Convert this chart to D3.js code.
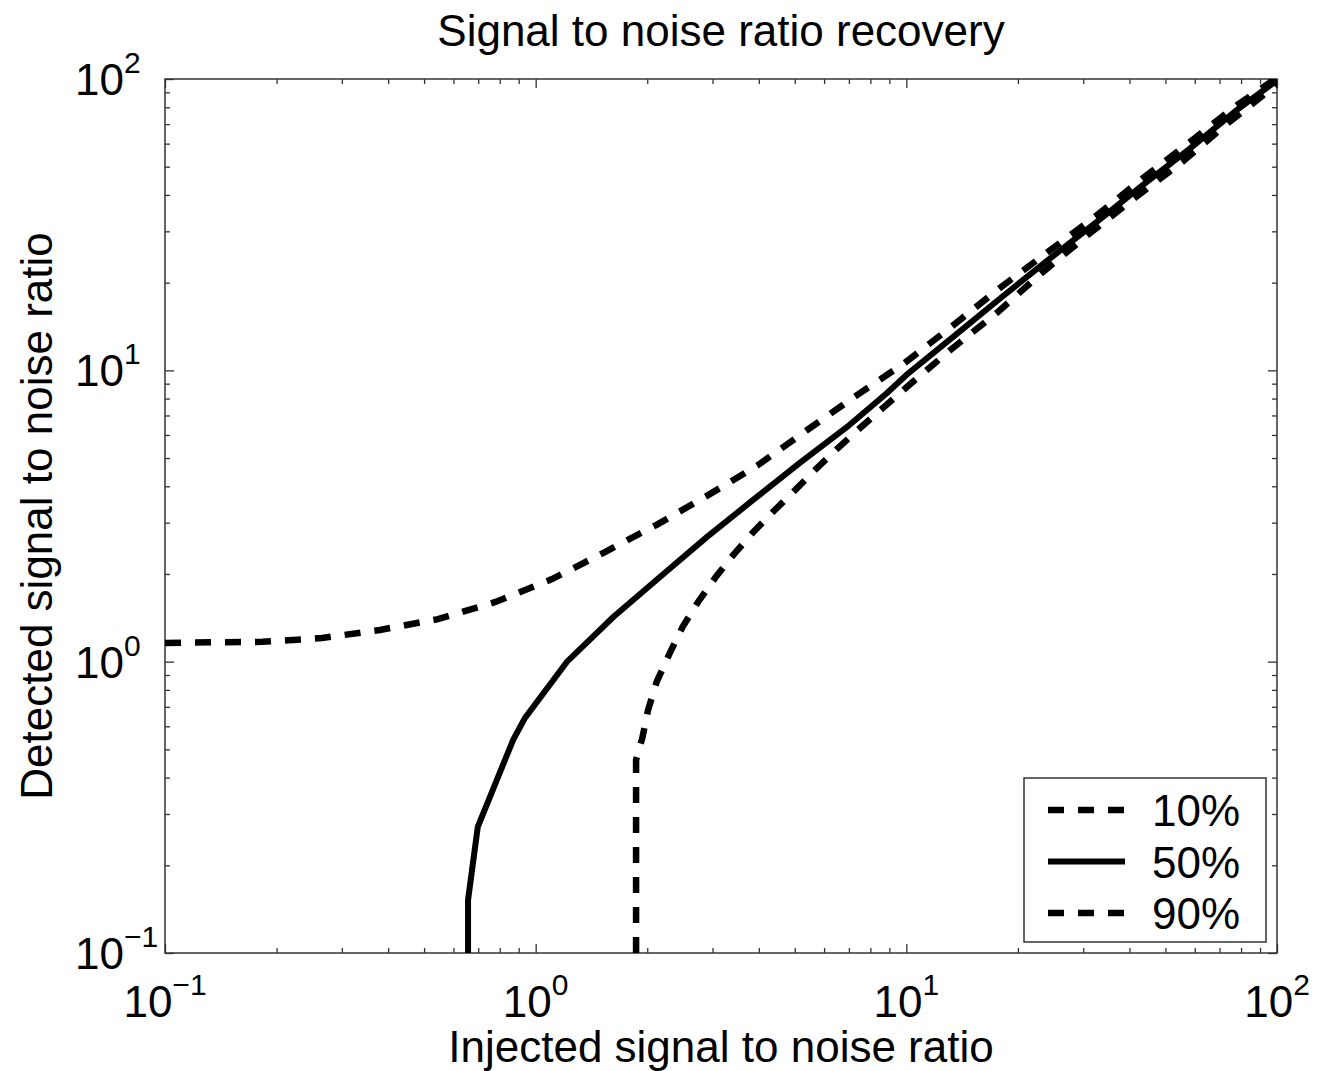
<!DOCTYPE html>
<html>
<head>
<meta charset="utf-8">
<script src="https://cdn.jsdelivr.net/npm/d3@7"></script>
<style>
  body { margin: 0; background: #fff; }
  text { font-family: "Liberation Sans", Arial, sans-serif; fill: #000; }
</style>
</head>
<body>
<div id="chart"></div>
<script>
// values (injected SNR -> detected SNR)
var injected10 = [0.1, 0.183, 0.265, 0.38, 0.545, 0.776, 1.107, 1.52, 2.12, 2.92, 3.98, 5.4, 7.36, 9.9, 13.4, 17.9, 24.1, 32.7, 43.5, 58.2, 78.0, 100];
var detected10 = [1.16, 1.17, 1.205, 1.285, 1.40, 1.60, 1.92, 2.36, 2.95, 3.73, 4.73, 6.24, 8.22, 10.6, 14.3, 19.2, 25.5, 34.1, 45.7, 60.8, 81.4, 101];

var injected50 = [0.657, 0.657, 0.698, 0.869, 0.936, 1.215, 1.617, 2.16, 2.90, 3.86, 5.16, 6.92, 8.87, 10.0, 13.4, 17.9, 24.1, 32.7, 43.5, 58.2, 78.0, 100];
var detected50 = [0.1, 0.152, 0.271, 0.538, 0.641, 1.0, 1.42, 1.95, 2.68, 3.59, 4.81, 6.39, 8.36, 9.64, 13.06, 17.65, 23.9, 32.4, 43.3, 57.7, 78.3, 99];

var injected90 = [1.866, 1.866, 1.94, 2.01, 2.12, 2.30, 2.49, 2.74, 3.05, 3.41, 3.85, 4.37, 5.01, 5.74, 6.54, 7.50, 8.65, 10.05, 13.1, 17.6, 23.2, 30.9, 41.4, 55.5, 73.8, 100];
var detected90 = [0.1, 0.46, 0.547, 0.682, 0.852, 1.07, 1.315, 1.60, 1.94, 2.32, 2.77, 3.27, 3.88, 4.62, 5.41, 6.34, 7.43, 8.78, 11.7, 15.8, 21.6, 29.2, 39.1, 51.9, 70.6, 96];

var seriesNames = ["10%", "50%", "90%"];
var majorTicks = [0.1, 1, 10, 100];
var tickExponents = ["\u22121", "0", "1", "2"];

var width = 1317, height = 1071;
var margin = {left: 165, top: 79, right: 40, bottom: 118};
var plotW = width - margin.left - margin.right;
var plotH = height - margin.top - margin.bottom;

var svg = d3.select('#chart').append('svg')
    .attr('width', width)
    .attr('height', height);

var x = d3.scaleLog().domain([0.1, 100]).range([0, plotW]);
var y = d3.scaleLog().domain([0.1, 100]).range([plotH, 0]);

var g = svg.append('g').attr('transform', 'translate(' + margin.left + ',' + margin.top + ')');

g.append('clipPath').attr('id', 'clip')
  .append('rect').attr('width', plotW).attr('height', plotH);

// minor + major ticks, pointing inward on all four sides
var minor = x.ticks().filter(function(d) { return majorTicks.indexOf(d) < 0; });
var axisColor = '#333';

function addAxis(axisFn, scale, vals, size, tx, ty) {
  var a = g.append('g')
    .attr('transform', 'translate(' + tx + ',' + ty + ')')
    .call(axisFn(scale).tickValues(vals).tickSize(-size).tickFormat(''));
  a.select('.domain').remove();
  a.selectAll('line').attr('stroke', axisColor).attr('stroke-width', 1.3);
}
[[minor, 5], [majorTicks, 9]].forEach(function(t) {
  addAxis(d3.axisBottom, x, t[0], t[1], 0, plotH);
  addAxis(d3.axisTop, x, t[0], t[1], 0, 0);
  addAxis(d3.axisLeft, y, t[0], t[1], 0, 0);
  addAxis(d3.axisRight, y, t[0], t[1], plotW, 0);
});

g.append('rect')
  .attr('width', plotW).attr('height', plotH)
  .attr('fill', 'none').attr('stroke', axisColor).attr('stroke-width', 1.5);

// tick labels 10^k
majorTicks.forEach(function(v, i) {
  var t = g.append('text')
    .attr('x', x(v)).attr('y', plotH + 64)
    .attr('text-anchor', 'middle')
    .style('font-size', '44px');
  t.append('tspan').text('10');
  t.append('tspan').attr('dy', -22).style('font-size', '30px').text(tickExponents[i]);

  var t2 = g.append('text')
    .attr('x', -90).attr('y', y(v) + 16)
    .attr('text-anchor', 'start')
    .style('font-size', '44px');
  t2.append('tspan').text('10');
  t2.append('tspan').attr('dy', -22).style('font-size', '30px').text(tickExponents[i]);
});

// titles
svg.append('text')
  .attr('x', margin.left + plotW / 2).attr('y', 46)
  .attr('text-anchor', 'middle').style('font-size', '44px')
  .text('Signal to noise ratio recovery');

svg.append('text')
  .attr('x', margin.left + plotW / 2).attr('y', 1062)
  .attr('text-anchor', 'middle').style('font-size', '44px')
  .text('Injected signal to noise ratio');

svg.append('text')
  .attr('transform', 'translate(52,' + (margin.top + plotH / 2) + ') rotate(-90)')
  .attr('text-anchor', 'middle').style('font-size', '44px')
  .text('Detected signal to noise ratio');

// curves
var series = [
  {xs: injected10, ys: detected10, dash: '16,14', w: 6.5},
  {xs: injected50, ys: detected50, dash: null, w: 6},
  {xs: injected90, ys: detected90, dash: '16,14', w: 6.5}
];

var line = d3.line()
  .x(function(d) { return x(d[0]); })
  .y(function(d) { return y(d[1]); });

var curves = g.append('g').attr('clip-path', 'url(#clip)');
series.forEach(function(s) {
  var pts = s.xs.map(function(v, i) { return [v, s.ys[i]]; });
  curves.append('path')
    .attr('d', line(pts))
    .attr('fill', 'none')
    .attr('stroke', '#000')
    .attr('stroke-width', s.w)
    .attr('stroke-dasharray', s.dash);
});

// legend
var lg = svg.append('g').attr('transform', 'translate(1024,778)');
lg.append('rect')
  .attr('width', 242).attr('height', 164)
  .attr('fill', '#fff').attr('stroke', axisColor).attr('stroke-width', 1.5);

series.forEach(function(s, i) {
  var cy = 32 + i * 51.5;
  lg.append('line')
    .attr('x1', 24).attr('x2', 101)
    .attr('y1', cy).attr('y2', cy)
    .attr('stroke', '#000').attr('stroke-width', s.w)
    .attr('stroke-dasharray', s.dash);
  lg.append('text')
    .attr('x', 128).attr('y', cy + 16)
    .style('font-size', '44px')
    .text(seriesNames[i]);
});
</script>
</body>
</html>
